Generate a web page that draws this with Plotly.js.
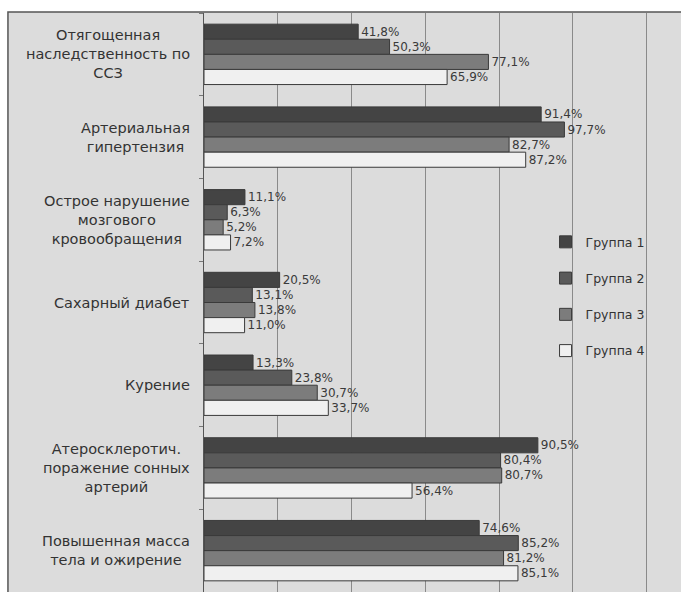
<!DOCTYPE html>
<html>
<head>
<meta charset="utf-8">
<script src="https://cdn.plot.ly/plotly-3.0.1.min.js"></script>
<style>html,body{margin:0;padding:0;background:#fff;}#chart{width:681px;height:592px;}</style>
</head>
<body>
<div id="chart"></div>
<script>
const categories = [
  "Отягощенная<br>наследственность по<br>ССЗ",
  "Артериальная<br>гипертензия",
  "Острое нарушение<br>мозгового<br>кровообращения",
  "Сахарный диабет",
  "Курение",
  "Атеросклеротич.<br>поражение сонных<br>артерий",
  "Повышенная масса<br>тела и ожирение"
];
const seriesNames = ["Группа 1", "Группа 2", "Группа 3", "Группа 4"];
const group1 = [41.8, 91.4, 11.1, 20.5, 13.3, 90.5, 74.6];
const group2 = [50.3, 97.7, 6.3, 13.1, 23.8, 80.4, 85.2];
const group3 = [77.1, 82.7, 5.2, 13.8, 30.7, 80.7, 81.2];
const group4 = [65.9, 87.2, 7.2, 11.0, 33.7, 56.4, 85.1];
const seriesValues = [group1, group2, group3, group4];
const colors = ["#444444", "#5a5a5a", "#7c7c7c", "#f0f0f0"];

const FONT = "DejaVu Sans, sans-serif";
const BG = "#dcdcdc";

const traces = seriesValues.map((vals, i) => ({
  type: "bar",
  orientation: "h",
  name: seriesNames[i],
  legendgroup: "g" + i,
  y: categories,
  x: vals,
  marker: { color: colors[i], line: { color: "#3a3a3a", width: 1 } },
  texttemplate: "%{x:.1f}%",
  textposition: "outside",
  cliponaxis: false,
  textfont: { family: FONT, size: 12, color: "#3a3a3a" },
  hoverinfo: "skip"
}));

// Centered multi-line category labels (Excel style), built from the categories array
const labelAnnotations = categories.map(c => ({
  xref: "paper",
  yref: "y",
  x: 0,
  y: c,
  xanchor: "right",
  yanchor: "middle",
  xshift: -12,
  align: "center",
  showarrow: false,
  text: c,
  font: { family: FONT, size: 14.5, color: "#333" }
}));

const layout = {
  width: 681,
  height: 592,
  margin: { l: 204, r: 0, t: 13, b: 0 },
  paper_bgcolor: "#ffffff",
  plot_bgcolor: BG,
  separators: ", ",
  barmode: "group",
  bargap: 0.27,
  bargroupgap: 0,
  font: { family: FONT, color: "#333" },
  xaxis: {
    range: [0, 129.3],
    dtick: 20,
    showgrid: true,
    gridcolor: "#8a8a8a",
    gridwidth: 1,
    zeroline: false,
    showticklabels: false,
    fixedrange: true
  },
  yaxis: {
    autorange: "reversed",
    showline: true,
    linecolor: "#555",
    linewidth: 1,
    ticks: "outside",
    tickson: "boundaries",
    ticklen: 4,
    tickcolor: "#777",
    showticklabels: false,
    showgrid: false
  },
  legend: {
    x: 0.716,
    y: 0.63,
    xanchor: "left",
    yanchor: "top",
    bgcolor: "rgba(0,0,0,0)",
    font: { family: FONT, size: 12.5, color: "#333" },
    traceorder: "grouped",
    tracegroupgap: 17,
    itemwidth: 30
  },
  annotations: labelAnnotations,
  shapes: [{
    type: "rect",
    xref: "paper",
    yref: "paper",
    x0: -0.411,
    x1: 1.05,
    y0: -0.05,
    y1: 1.0017,
    fillcolor: BG,
    line: { color: "#555", width: 1.5 },
    layer: "below"
  }],
  showlegend: true
};

Plotly.newPlot("chart", traces, layout, { displayModeBar: false, staticPlot: true });
</script>
</body>
</html>
